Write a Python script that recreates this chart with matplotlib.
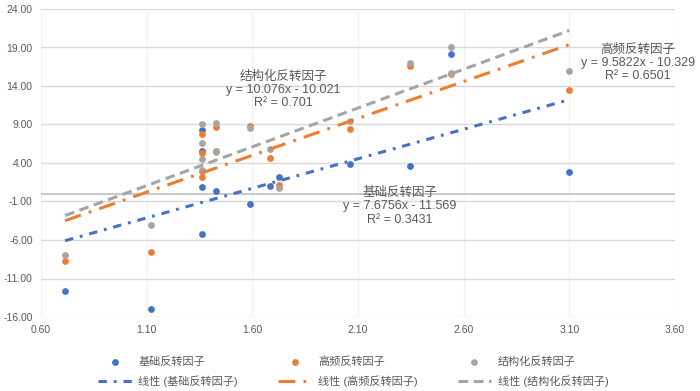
import numpy as np
import matplotlib
matplotlib.use("Agg")
import matplotlib.pyplot as plt
from matplotlib.ticker import FormatStrFormatter

plt.rcParams['font.family'] = ['Liberation Sans', 'Noto Sans CJK SC', 'DejaVu Sans']
plt.rcParams['lines.scale_dashes'] = False

# values
names = ['基础反转因子', '高频反转因子', '结构化反转因子']

x_basic = [0.714, 1.12, 1.36, 1.36, 1.36, 1.36, 1.43, 1.59, 1.684, 1.728, 2.06, 2.346, 2.54, 3.10]
y_basic = [-12.6, -15.0, 8.3, 5.6, 0.9, -5.2, 0.4, -1.35, 1.0, 2.15, 3.9, 3.55, 18.15, 2.8]

x_hf = [0.714, 1.12, 1.36, 1.36, 1.36, 1.36, 1.43, 1.43, 1.59, 1.684, 1.728, 2.06, 2.346, 2.54, 3.10]
y_hf = [-8.7, -7.5, 7.8, 5.35, 2.2, 3.0, 8.7, 5.6, 8.8, 4.7, 1.1, 8.45, 16.6, 15.5, 13.5]

x_struct = [0.714, 1.12, 1.36, 1.36, 1.36, 1.36, 1.43, 1.43, 1.59, 1.684, 1.728, 2.06, 2.346, 2.54, 2.54, 3.10]
y_struct = [-8.0, -4.1, 9.1, 6.65, 4.5, 3.1, 9.25, 5.4, 8.55, 5.8, 0.7, 9.5, 17.05, 19.05, 15.7, 16.0]

# trendline equations shown on the chart
slopes = [7.6756, 9.5822, 10.076]
intercepts = [-11.569, -10.329, -10.021]
r2 = [0.3431, 0.6501, 0.701]

x_ticks = [0.6, 1.1, 1.6, 2.1, 2.6, 3.1, 3.6]
y_ticks = [-16, -11, -6, -1, 4, 9, 14, 19, 24]

colors = ['#4472C4', '#ED7D31', '#A5A5A5']
dash_styles = [(0, (6, 5, 2, 5)), (0, (12, 6, 2, 6)), (0, (7, 4))]

fig = plt.figure(figsize=(7, 3.91), dpi=100)
ax = fig.add_axes([41 / 700, 1 - 317 / 391, 634 / 700, 308 / 391])

xs_all = [x_basic, x_hf, x_struct]
ys_all = [y_basic, y_hf, y_struct]

handles = []
for i in range(3):
    pts = ax.scatter(xs_all[i], ys_all[i], s=24, color=colors[i], zorder=3 + i,
                     linewidths=0, label=names[i])
    xl = np.array([min(xs_all[i]), max(xs_all[i])])
    ln, = ax.plot(xl, slopes[i] * xl + intercepts[i], color=colors[i], lw=2.2,
                  linestyle=dash_styles[i], zorder=7, dash_capstyle='butt',
                  label='线性 (%s)' % names[i])
    handles += [pts, ln]

ax.set_xlim(x_ticks[0], x_ticks[-1])
ax.set_ylim(y_ticks[0], y_ticks[-1])
ax.set_xticks(x_ticks)
ax.set_yticks(y_ticks)
ax.xaxis.set_major_formatter(FormatStrFormatter('%.2f'))
ax.yaxis.set_major_formatter(FormatStrFormatter('%.2f'))
ax.tick_params(length=0, labelsize=7.5, colors='#595959')
ax.tick_params(axis='x', pad=6)
ax.tick_params(axis='y', pad=6)
ax.grid(axis='y', color='#D9D9D9', lw=1)
ax.grid(axis='x', color='#F2F2F2', lw=1)
ax.set_axisbelow(True)
for s in ax.spines.values():
    s.set_visible(False)
ax.axhline(0, color='#BFBFBF', lw=1.2, zorder=1)

# trendline labels
lab_pos = [(0.566, 0.36), (0.942, 0.825), (0.382, 0.737)]
for i in range(3):
    txt = '%s\ny = %sx - %s\nR² = %s' % (names[i], slopes[i], -intercepts[i], r2[i])
    ax.text(lab_pos[i][0], lab_pos[i][1], txt, transform=ax.transAxes,
            ha='center', va='center', fontsize=9, color='#595959',
            linespacing=1.15, zorder=8)

fig.legend(handles=handles, loc='center', bbox_to_anchor=(0.505, 0.05), ncol=3,
           frameon=False, fontsize=8, labelcolor='#595959', handlelength=3,
           columnspacing=3.6, handletextpad=0.6, labelspacing=0.75)

fig.savefig('out.png', dpi=100)
